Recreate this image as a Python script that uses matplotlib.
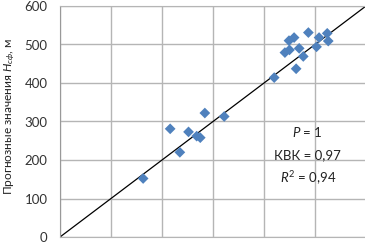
import matplotlib
matplotlib.use('Agg')
import matplotlib.pyplot as plt
import numpy as np

h_obs = [163, 216, 235, 252, 268, 275, 284, 322, 420, 441, 450, 449, 459, 463,
         469, 477, 487, 503, 508, 524, 526]
h_pred = [152, 281, 220, 273, 262, 258, 322, 313, 414, 479, 486, 510, 518, 437,
          490, 469, 531, 494, 518, 529, 509]
y_ticks = [0, 100, 200, 300, 400, 500, 600]
stats = ['$P$ = 1', 'КВК = 0,97', '$R^2$ = 0,94']

plt.rcParams['font.family'] = ['Lato', 'DejaVu Sans']
plt.rcParams['mathtext.fontset'] = 'custom'
plt.rcParams['mathtext.it'] = 'Lato:italic'
plt.rcParams['mathtext.rm'] = 'Lato'

fs = 9.5
fig = plt.figure(figsize=(3.65, 2.43), dpi=100)
ax = fig.add_axes([60 / 365, 6 / 243, 306 / 365, 231 / 243])

ax.plot([0, 600], [0, 600], color='black', lw=0.9, zorder=2)
ax.scatter(h_obs, h_pred, marker='D', s=30, color='#4f81bd', edgecolors='none', zorder=3)

ax.set_xlim(0, 600)
ax.set_ylim(0, 600)
ax.set_xticks(y_ticks)
ax.set_yticks(y_ticks)
ax.set_xticklabels([])
ax.tick_params(length=0, labelsize=fs, pad=9, colors='#333333')
ax.grid(True, color='#b5b5b5', lw=1)
ax.set_axisbelow(True)
for s in ax.spines.values():
    s.set_color('#b5b5b5')
ax.spines['left'].set_color('#999999')

fig.text(10 / 365, 0.52, 'Прогнозные значения $H_{сф}$, м', rotation=90,
         ha='center', va='center', fontsize=8.6, color='#222222')

for i, t in enumerate(stats):
    ax.text(486, 274 - 61 * i, t, ha='center', va='center', fontsize=fs, color='#222222')

fig.savefig('out.png', dpi=100)
